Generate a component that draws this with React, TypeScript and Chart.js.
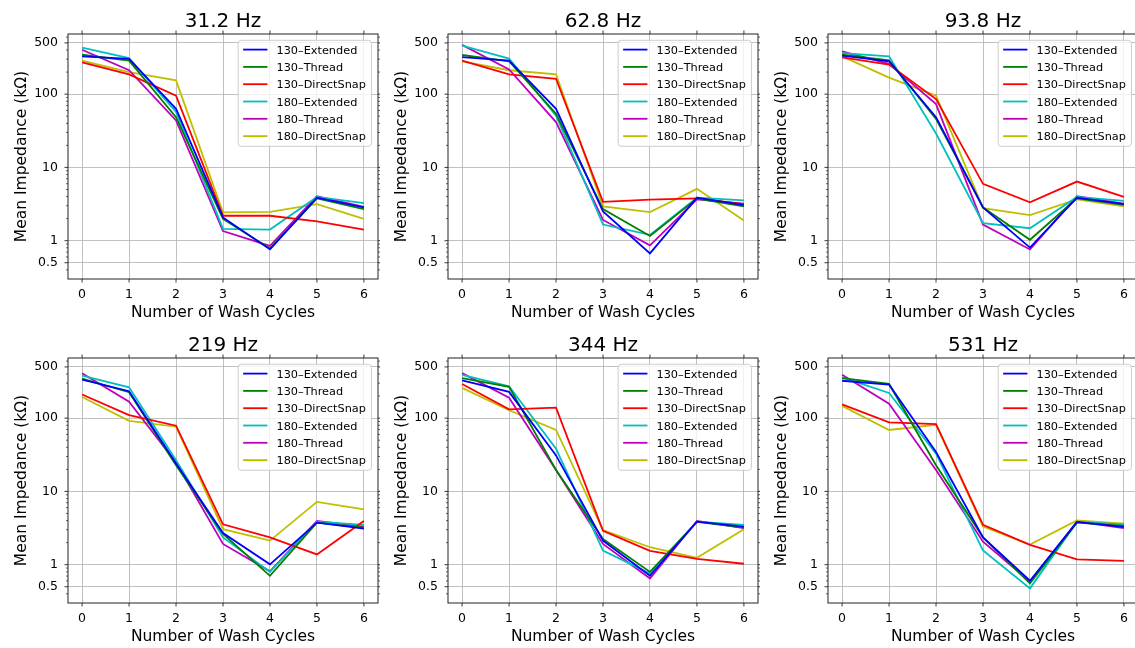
import React, { useEffect, useRef } from 'react';
import { Chart, registerables } from 'chart.js';

Chart.register(...registerables);

// ---------- data ----------
const cycles = [0, 1, 2, 3, 4, 5, 6];
const xTicks = [0, 1, 2, 3, 4, 5, 6];
const yTicks = [0.5, 1, 10, 100, 500];
const seriesLabels = ['130–Extended', '130–Thread', '130–DirectSnap', '180–Extended', '180–Thread', '180–DirectSnap'];
const seriesColors = ['#0000ff', '#008000', '#ff0000', '#00bfbf', '#bf00bf', '#bfbf00'];
const panelTitles = ['31.2 Hz', '62.8 Hz', '93.8 Hz', '219 Hz', '344 Hz', '531 Hz'];

// rows: 130-Extended, 130-Thread, 130-DirectSnap, 180-Extended, 180-Thread, 180-DirectSnap
const z31 = [
  [328, 302, 63, 2.08, 0.76, 3.87, 2.84],
  [345, 287, 48.5, 1.98, 0.78, 3.79, 2.7],
  [272, 186, 95, 2.19, 2.19, 1.84, 1.42],
  [433, 311, 57, 1.45, 1.42, 3.95, 3.25],
  [403, 212, 43.8, 1.35, 0.85, 4.03, 2.9],
  [287, 200, 154, 2.43, 2.48, 3.15, 1.98],
];
const z62 = [
  [321, 287, 63, 2.5, 0.67, 3.87, 3.05],
  [342, 281, 53.8, 2.7, 1.16, 3.75, 2.93],
  [287, 186, 162, 3.38, 3.63, 3.79, 3.15],
  [461, 305, 51, 1.66, 1.2, 3.87, 3.56],
  [471, 217, 41.6, 1.92, 0.865, 3.67, 3.21],
  [281, 212, 186, 2.93, 2.46, 5.1, 1.88],
];
const z93 = [
  [335, 281, 48.5, 2.84, 0.805, 3.87, 3.15],
  [345, 290, 46, 2.84, 1.03, 3.79, 3.08],
  [318, 253, 85.7, 5.97, 3.35, 6.41, 3.95],
  [363, 328, 29, 1.73, 1.48, 3.95, 3.49],
  [383, 259, 73, 1.66, 0.76, 4.03, 3.21],
  [328, 168, 95, 2.78, 2.24, 3.67, 2.93],
];
const z219 = [
  [335, 233, 24, 2.7, 1.01, 3.75, 3.11],
  [345, 226, 22.8, 2.64, 0.705, 3.75, 3.21],
  [210, 110, 78.8, 3.56, 2.36, 1.38, 3.95],
  [379, 264, 26.7, 2.36, 0.797, 3.87, 3.49],
  [411, 168, 24.8, 1.92, 0.813, 3.95, 3.31],
  [194, 92, 76.4, 3.05, 2.13, 7.19, 5.67],
];
const z344 = [
  [328, 228, 31, 2.13, 0.705, 3.87, 3.31],
  [352, 267, 19.6, 2.24, 0.797, 3.83, 3.21],
  [293, 132, 139, 2.9, 1.54, 1.2, 1.03],
  [391, 272, 38.3, 1.56, 0.757, 3.87, 3.49],
  [411, 190, 19.6, 1.92, 0.648, 3.95, 3.15],
  [259, 128, 69, 2.96, 1.73, 1.24, 3.05],
];
const z531 = [
  [324, 287, 34.5, 2.36, 0.603, 3.83, 3.28],
  [352, 293, 22.8, 2.36, 0.555, 3.75, 3.38],
  [154, 87.4, 83, 3.49, 1.86, 1.18, 1.13],
  [360, 221, 32.8, 1.56, 0.475, 3.83, 3.56],
  [391, 157, 19.6, 2.06, 0.585, 3.87, 3.15],
  [147, 69, 81.3, 3.31, 1.88, 4.03, 3.63],
];
const panelData = [z31, z62, z93, z219, z344, z531];

// ---------- style ----------
const FONT = "'DejaVu Sans', sans-serif";
const Y_MIN = 0.331;
const Y_MAX = 662;
const X_MIN = -0.3;
const X_MAX = 6.3;
const CANVAS_W = 380;
const CANVAS_H = 325;
const COL_STEP = 380;
const ROW_STEP = 324;

const decorPlugin = {
  id: 'decor',
  afterDatasetsDraw(chart: any, _args: any, opts: any) {
    const { ctx, chartArea } = chart;
    const { left, right, top, bottom } = chartArea;
    const xs = chart.scales.x;
    const ys = chart.scales.y;
    ctx.save();

    // spines
    ctx.strokeStyle = '#222';
    ctx.lineWidth = 1;
    ctx.strokeRect(left, top, right - left, bottom - top);

    // tick marks (outward on all sides)
    const line = (x1: number, y1: number, x2: number, y2: number) => {
      ctx.beginPath();
      ctx.moveTo(x1, y1);
      ctx.lineTo(x2, y2);
      ctx.stroke();
    };
    ctx.lineWidth = 0.9;
    const maj = 3.5;
    const mnr = 2;
    xTicks.forEach((v) => {
      const px = xs.getPixelForValue(v);
      line(px, bottom, px, bottom + maj);
      line(px, top, px, top - maj);
    });
    yTicks.forEach((v) => {
      const py = ys.getPixelForValue(v);
      line(left, py, left - maj, py);
      line(right, py, right + maj, py);
    });
    ctx.lineWidth = 0.7;
    for (let e = -1; e <= 2; e++) {
      for (let m = 2; m <= 9; m++) {
        const v = m * Math.pow(10, e);
        if (v < Y_MIN || v > Y_MAX) continue;
        if (yTicks.some((t) => Math.abs(t - v) < 1e-9)) continue;
        const py = ys.getPixelForValue(v);
        line(left, py, left - mnr, py);
        line(right, py, right + mnr, py);
      }
    }

    // legend
    const fs = 11.3;
    ctx.font = `${fs}px ${FONT}`;
    const labels = chart.data.datasets.map((d: any) => d.label);
    const textW = Math.max(...labels.map((l: string) => ctx.measureText(l).width));
    const padL = 5;
    const handle = 24.3;
    const gap = 9;
    const padR = 5.5;
    const w = padL + handle + gap + textW + padR;
    const h = 106;
    const bx = right - 6.6 - w;
    const by = top + 6.3;
    ctx.beginPath();
    ctx.roundRect(bx, by, w, h, 3);
    ctx.fillStyle = 'rgba(255,255,255,0.8)';
    ctx.fill();
    ctx.strokeStyle = '#cccccc';
    ctx.lineWidth = 1;
    ctx.stroke();
    chart.data.datasets.forEach((d: any, i: number) => {
      const cy = by + 9.3 + i * 17.3;
      ctx.strokeStyle = d.borderColor;
      ctx.lineWidth = 1.8;
      line(bx + padL, cy, bx + padL + handle, cy);
      ctx.fillStyle = '#000';
      ctx.textAlign = 'left';
      ctx.textBaseline = 'alphabetic';
      ctx.fillText(d.label, bx + padL + handle + gap, cy + 4.1);
    });

    // title
    ctx.font = `20px ${FONT}`;
    ctx.fillStyle = '#000';
    ctx.textAlign = 'center';
    ctx.textBaseline = 'alphabetic';
    ctx.fillText(opts.text, (left + right) / 2, top - 6.7);

    ctx.restore();
  },
};

function Panel({ index }: { index: number }) {
  const ref = useRef<HTMLCanvasElement | null>(null);
  useEffect(() => {
    if (!ref.current) return;
    const series = panelData[index];
    const chart = new Chart(ref.current, {
      type: 'line',
      data: {
        datasets: series.map((vals, i) => ({
          label: seriesLabels[i],
          data: cycles.map((c, j) => ({ x: c, y: vals[j] })),
          borderColor: seriesColors[i],
          backgroundColor: seriesColors[i],
          borderWidth: 1.8,
          pointRadius: 0,
          pointHoverRadius: 0,
          fill: false,
          tension: 0,
        })),
      },
      options: {
        animation: false,
        responsive: false,
        events: [],
        layout: { padding: { top: 34, right: 2, left: 0, bottom: 0 } },
        plugins: {
          legend: { display: false },
          tooltip: { enabled: false },
          title: { display: false },
          decor: { text: panelTitles[index] },
        } as any,
        scales: {
          x: {
            type: 'linear',
            min: X_MIN,
            max: X_MAX,
            afterBuildTicks: (s: any) => {
              s.ticks = xTicks.map((v) => ({ value: v }));
            },
            afterFit: (s: any) => {
              s.height = 46;
            },
            grid: { color: '#b0b0b0', lineWidth: 0.8, drawTicks: false },
            border: { display: false },
            ticks: {
              padding: 8,
              color: '#000',
              font: { size: 12.5, family: FONT },
              maxRotation: 0,
              autoSkip: false,
              callback: (v: any) => String(v),
            },
            title: {
              display: true,
              text: 'Number of Wash Cycles',
              color: '#000',
              font: { size: 15.5, family: FONT },
              padding: { top: 0, bottom: 3 },
            },
          },
          y: {
            type: 'logarithmic',
            min: Y_MIN,
            max: Y_MAX,
            afterBuildTicks: (s: any) => {
              s.ticks = yTicks.map((v) => ({ value: v }));
            },
            afterFit: (s: any) => {
              s.width = 68;
            },
            grid: { color: '#b0b0b0', lineWidth: 0.8, drawTicks: false },
            border: { display: false },
            ticks: {
              padding: 10,
              color: '#000',
              font: { size: 12.5, family: FONT },
              autoSkip: false,
              callback: (v: any) => (Number(v) < 1 ? String(Number(v)) : String(Math.round(Number(v)))),
            },
            title: {
              display: true,
              text: 'Mean Impedance (kΩ)',
              color: '#000',
              font: { size: 15.5, family: FONT },
              padding: { top: 12.4, bottom: 0 },
            },
          },
        },
      } as any,
      plugins: [decorPlugin as any],
    });
    return () => chart.destroy();
  }, [index]);

  const col = index % 3;
  const row = Math.floor(index / 3);
  return (
    <canvas
      ref={ref}
      width={CANVAS_W}
      height={CANVAS_H}
      style={{ position: 'absolute', left: col * COL_STEP, top: row * ROW_STEP, width: CANVAS_W, height: CANVAS_H }}
    />
  );
}

export default function App() {
  useEffect(() => {
    document.body.style.margin = '0';
    document.body.style.overflow = 'hidden';
  }, []);
  return (
    <div style={{ position: 'relative', width: 1135, height: 648, overflow: 'hidden', background: '#fff' }}>
      {panelData.map((_, i) => (
        <Panel key={i} index={i} />
      ))}
    </div>
  );
}
